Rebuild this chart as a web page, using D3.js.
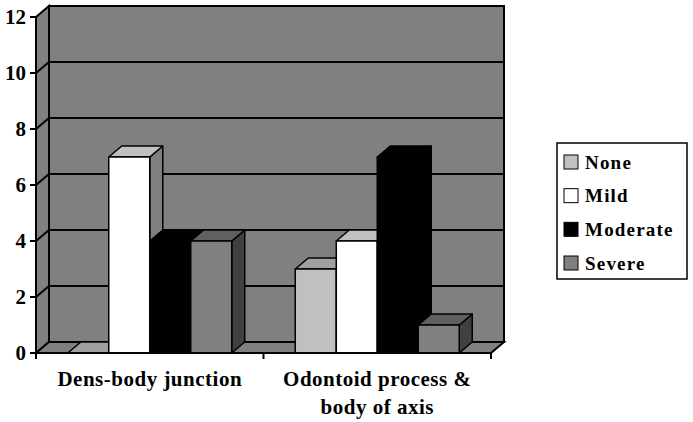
<!DOCTYPE html>
<html>
<head>
<meta charset="utf-8">
<script src="https://cdn.jsdelivr.net/npm/d3@7"></script>
<style>
  body { margin: 0; background: #fff; }
  text { font-family: "Liberation Serif", "Times New Roman", serif; font-weight: bold; }
</style>
</head>
<body>
<div id="chart"></div>
<script>
// dados
const categories = ["Dens-body junction", "Odontoid process & body of axis"];
const categoryLines = [["Dens-body junction"], ["Odontoid process &", "body of axis"]];
const series = ["None", "Mild", "Moderate", "Severe"];
const noneValues = [0, 3];
const mildValues = [7, 4];
const moderateValues = [4, 7];
const severeValues = [4, 1];
const yTicks = [0, 2, 4, 6, 8, 10, 12];

const seriesValues = [noneValues, mildValues, moderateValues, severeValues];

// cores (frente, topo, lado)
const frontColor = d3.scaleOrdinal().domain(series).range(["#c0c0c0", "#ffffff", "#000000", "#808080"]);
const topColor = d3.scaleOrdinal().domain(series).range(["#a0a0a0", "#c0c0c0", "#000000", "#606060"]);
const sideColor = d3.scaleOrdinal().domain(series).range(["#808080", "#808080", "#000000", "#404040"]);

const W = 693, H = 422;
const dx = 13, dy = -11; // profundidade 3D

const svg = d3.select("#chart").append("svg").attr("width", W).attr("height", H);
svg.append("rect").attr("width", W).attr("height", H).attr("fill", "#fff");

// escalas
const y = d3.scaleLinear().domain([0, 12]).range([353, 17]);
const x0 = d3.scaleBand().domain(categories).range([36, 491]);
const x1 = d3.scaleBand().domain(series).range([0, x0.bandwidth()]).paddingInner(0).paddingOuter(0.775);

const left = x0.range()[0], right = x0.range()[1];
const y0 = y(0), yTop = y(12);

const wallStyle = (sel) => sel.attr("fill", "#808080").attr("stroke", "#000").attr("stroke-width", 2).attr("stroke-linejoin", "miter");

// parede de trás
svg.append("rect")
  .attr("x", left + dx).attr("y", yTop + dy)
  .attr("width", right - left).attr("height", y0 - yTop)
  .call(wallStyle);

// parede lateral
svg.append("polygon")
  .attr("points", [[left, yTop], [left + dx, yTop + dy], [left + dx, y0 + dy], [left, y0]].join(" "))
  .call(wallStyle);

// chão
svg.append("polygon")
  .attr("points", [[left, y0], [left + dx, y0 + dy], [right + dx, y0 + dy], [right, y0]].join(" "))
  .call(wallStyle);

// grelha
const grid = svg.append("g").attr("stroke", "#000").attr("stroke-width", 2);
yTicks.filter((t) => t > 0 && t < 12).forEach((t) => {
  grid.append("line").attr("x1", left + dx).attr("x2", right + dx).attr("y1", y(t) + dy).attr("y2", y(t) + dy);
  grid.append("line").attr("x1", left).attr("x2", left + dx).attr("y1", y(t)).attr("y2", y(t) + dy);
});

// barras
categories.forEach((c, ci) => {
  series.forEach((s, si) => {
    const v = seriesValues[si][ci];
    const bx = x0(c) + x1(s);
    const bw = x1.bandwidth();
    const top = y(v);
    const g = svg.append("g").attr("stroke", "#000").attr("stroke-width", 1.5).attr("stroke-linejoin", "round");

    if (v > 0) {
      g.append("polygon")
        .attr("points", [[bx + bw, top], [bx + bw + dx, top + dy], [bx + bw + dx, y0 + dy], [bx + bw, y0]].join(" "))
        .attr("fill", sideColor(s));
    }
    g.append("polygon")
      .attr("points", [[bx, top], [bx + dx, top + dy], [bx + bw + dx, top + dy], [bx + bw, top]].join(" "))
      .attr("fill", topColor(s));
    if (v > 0) {
      g.append("rect").attr("x", bx).attr("y", top).attr("width", bw).attr("height", y0 - top).attr("fill", frontColor(s));
    }
  });
});

// eixo Y
const yAxis = svg.append("g");
yTicks.forEach((t) => {
  yAxis.append("line").attr("x1", left - 6).attr("x2", left).attr("y1", y(t)).attr("y2", y(t)).attr("stroke", "#000").attr("stroke-width", 2);
  yAxis.append("text")
    .attr("x", left - 10).attr("y", y(t)).attr("dy", "0.35em")
    .attr("text-anchor", "end").attr("font-size", 21)
    .text(t);
});
svg.append("line").attr("x1", left).attr("x2", left).attr("y1", yTop).attr("y2", y0).attr("stroke", "#000").attr("stroke-width", 2);

// eixo X
const xAxis = svg.append("g").attr("stroke", "#000").attr("stroke-width", 2);
xAxis.append("line").attr("x1", left).attr("x2", right).attr("y1", y0).attr("y2", y0);
[left, ...categories.slice(1).map((c) => x0(c)), right].forEach((tx) => {
  xAxis.append("line").attr("x1", tx).attr("x2", tx).attr("y1", y0).attr("y2", y0 + 6);
});

categories.forEach((c, ci) => {
  const t = svg.append("text")
    .attr("x", x0(c) + x0.bandwidth() / 2).attr("y", 386)
    .attr("text-anchor", "middle").attr("font-size", 21).attr("letter-spacing", 0.5);
  categoryLines[ci].forEach((line, li) => {
    t.append("tspan").attr("x", x0(c) + x0.bandwidth() / 2).attr("dy", li === 0 ? 0 : 28).text(line);
  });
});

// legenda
const legend = svg.append("g");
legend.append("rect").attr("x", 557).attr("y", 143).attr("width", 130).attr("height", 136)
  .attr("fill", "#fff").attr("stroke", "#000").attr("stroke-width", 1.5);
const legendY = d3.scalePoint().domain(series).range([162, 263]);
series.forEach((s) => {
  legend.append("rect").attr("x", 564).attr("y", legendY(s) - 7).attr("width", 14).attr("height", 14)
    .attr("fill", frontColor(s)).attr("stroke", "#000").attr("stroke-width", 1);
  legend.append("text").attr("x", 585).attr("y", legendY(s)).attr("dy", "0.35em")
    .attr("font-size", 19).attr("letter-spacing", 1.2).text(s);
});
</script>
</body>
</html>
